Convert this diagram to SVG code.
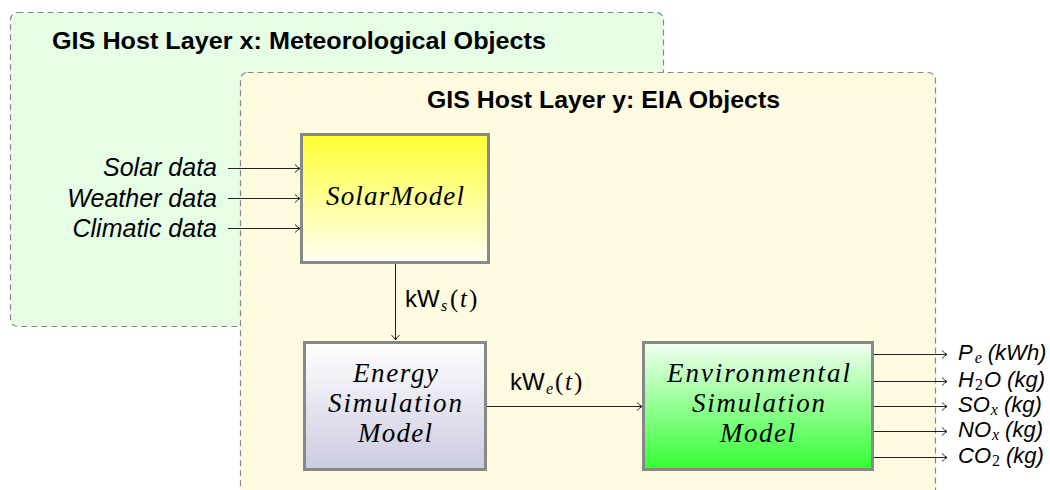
<svg xmlns="http://www.w3.org/2000/svg" width="1050" height="490" viewBox="0 0 1050 490">
<defs>
<linearGradient id="gSolar" x1="0" y1="0" x2="0" y2="1"><stop offset="0" stop-color="#ffff33"/><stop offset="1" stop-color="#fffff5"/></linearGradient>
<linearGradient id="gEnergy" x1="0" y1="0" x2="0" y2="1"><stop offset="0" stop-color="#ffffff"/><stop offset="1" stop-color="#cbcbe0"/></linearGradient>
<linearGradient id="gEnv" x1="0" y1="0" x2="0" y2="1"><stop offset="0" stop-color="#f2fff2"/><stop offset="1" stop-color="#33ff33"/></linearGradient>
<marker id="arr" viewBox="-6 -5 8 10" markerWidth="8" markerHeight="10" refX="0" refY="0" orient="auto" markerUnits="userSpaceOnUse">
<path d="M-5,-4 Q-2,-1 0,0 Q-2,1 -5,4" fill="none" stroke="#222" stroke-width="1"/>
</marker>
<style>
.layer{stroke:#888;stroke-width:1.2;stroke-dasharray:6,4}
.title{font-family:"Liberation Sans",Arial,sans-serif;font-weight:bold;font-size:24px;fill:#000}
.box{stroke:#888;stroke-width:3}
.math{font-family:"Liberation Serif","Times New Roman",serif;font-style:italic;font-size:27px;fill:#000}
.lbl{font-family:"Liberation Sans",Arial,sans-serif;font-style:italic;font-size:25px;fill:#000}
.out{font-family:"Liberation Sans",Arial,sans-serif;font-style:italic;font-size:22px;fill:#000}
.kw{font-family:"Liberation Sans",Arial,sans-serif;font-size:24px;fill:#000}
.mi{font-family:"Liberation Serif","Times New Roman",serif;font-style:italic;font-size:25px;fill:#000}
.mn{font-family:"Liberation Serif","Times New Roman",serif;font-style:normal;font-size:25px;fill:#000}
.si{font-family:"Liberation Serif","Times New Roman",serif;font-style:italic;font-size:16px;fill:#000}
.sn{font-family:"Liberation Serif","Times New Roman",serif;font-style:normal;font-size:16px;fill:#000}
.conn{stroke:#222;stroke-width:1;fill:none;marker-end:url(#arr)}
</style>
</defs>
<rect width="1050" height="490" fill="#ffffff"/>
<g id="layerX">
<rect class="layer" x="10.5" y="12.5" width="653" height="314" rx="7" fill="#e6fde6"/>
<text class="title" x="52" y="49" textLength="494" lengthAdjust="spacingAndGlyphs">GIS Host Layer x: Meteorological Objects</text>
</g>
<g id="layerY">
<rect class="layer" x="240.5" y="72.5" width="695" height="440" rx="7" fill="#fffbe0"/>
<text class="title" x="427" y="108" textLength="353" lengthAdjust="spacingAndGlyphs">GIS Host Layer y: EIA Objects</text>
</g>
<g id="inputs">
<text class="lbl" x="217" y="176" text-anchor="end">Solar data</text>
<text class="lbl" x="217" y="207" text-anchor="end">Weather data</text>
<text class="lbl" x="217" y="237" text-anchor="end">Climatic data</text>
</g>
<g id="solarModel">
<rect class="box" x="301.5" y="134.5" width="187" height="128" fill="url(#gSolar)"/>
<text class="math" x="326" y="205" textLength="138" lengthAdjust="spacing">SolarModel</text>
</g>
<g id="energyModel">
<rect class="box" x="304.5" y="342.5" width="181" height="127" fill="url(#gEnergy)"/>
<text class="math" x="353" y="382" textLength="85" lengthAdjust="spacing">Energy</text>
<text class="math" x="328" y="412" textLength="134" lengthAdjust="spacing">Simulation</text>
<text class="math" x="358" y="442" textLength="74" lengthAdjust="spacing">Model</text>
</g>
<g id="envModel">
<rect class="box" x="643.5" y="342.5" width="229" height="127" fill="url(#gEnv)"/>
<text class="math" x="667" y="382" textLength="183" lengthAdjust="spacing">Environmental</text>
<text class="math" x="692" y="412" textLength="133" lengthAdjust="spacing">Simulation</text>
<text class="math" x="720" y="442" textLength="75" lengthAdjust="spacing">Model</text>
</g>
<g id="connectors">
<line class="conn" x1="228" y1="168.5" x2="300" y2="168.5"/>
<line class="conn" x1="228" y1="198.5" x2="300" y2="198.5"/>
<line class="conn" x1="228" y1="228.5" x2="300" y2="228.5"/>
<line class="conn" x1="395.5" y1="264" x2="395.5" y2="340"/>
<line class="conn" x1="487" y1="406.5" x2="642" y2="406.5"/>
<line class="conn" x1="874" y1="354.5" x2="947" y2="354.5"/>
<line class="conn" x1="874" y1="381.5" x2="947" y2="381.5"/>
<line class="conn" x1="874" y1="406.5" x2="947" y2="406.5"/>
<line class="conn" x1="874" y1="431.5" x2="947" y2="431.5"/>
<line class="conn" x1="874" y1="457.5" x2="947" y2="457.5"/>
</g>
<g id="labels">
<text class="kw" x="405" y="307">kW</text>
<text class="si" x="441" y="311">s</text>
<text class="mn" x="450" y="307">(</text>
<text class="mi" x="460" y="307">t</text>
<text class="mn" x="469" y="307">)</text>
<text class="kw" x="510" y="390">kW</text>
<text class="si" x="546" y="394">e</text>
<text class="mn" x="555" y="390">(</text>
<text class="mi" x="565" y="390">t</text>
<text class="mn" x="574" y="390">)</text>
<text class="out" x="958" y="360">P<tspan class="si" dx="2" dy="3">e</tspan><tspan dx="6" dy="-3">(kWh)</tspan></text>
<text class="out" x="958" y="387">H<tspan class="sn" dx="1" dy="3">2</tspan><tspan dx="1" dy="-3">O (kg)</tspan></text>
<text class="out" x="958" y="412">SO<tspan class="si" dx="1" dy="3">x</tspan><tspan dx="6" dy="-3">(kg)</tspan></text>
<text class="out" x="958" y="437">NO<tspan class="si" dx="1" dy="3">x</tspan><tspan dx="6" dy="-3">(kg)</tspan></text>
<text class="out" x="958" y="463">CO<tspan class="sn" dx="1" dy="3">2</tspan><tspan dx="6" dy="-3">(kg)</tspan></text>
</g>
</svg>
